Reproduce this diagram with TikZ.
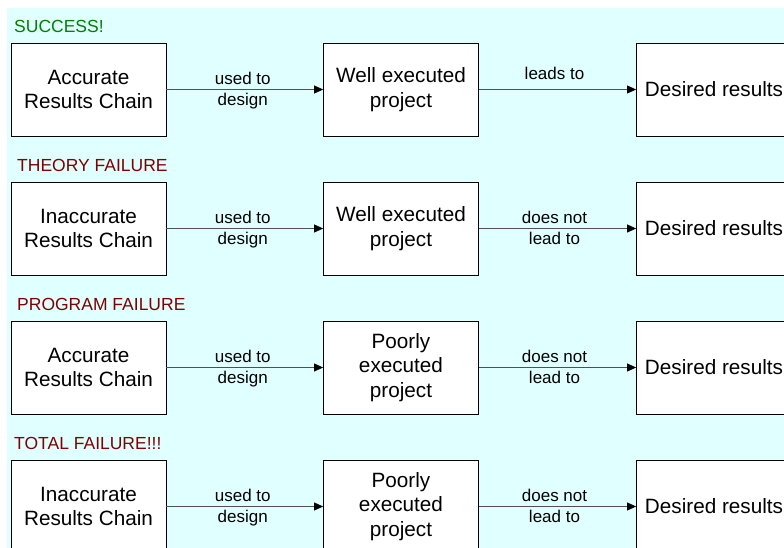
\documentclass[tikz,border=0pt]{standalone}
\usepackage{fontspec}
\setmainfont{Liberation Sans}
\usetikzlibrary{arrows.meta}
\definecolor{bgcyan}{RGB}{224,255,255}
\definecolor{okgreen}{RGB}{0,128,0}
\definecolor{failred}{RGB}{128,0,0}
\definecolor{linegray}{RGB}{80,80,80}
\tikzset{
  box/.style={draw=black, line width=0.8pt, fill=white, minimum width=155pt, minimum height=93pt,
    inner sep=0pt, align=center, font=\fontsize{20.7}{24.8}\selectfont},
  title/.style={anchor=west, inner sep=0pt, font=\fontsize{17.5}{20}\selectfont},
  conn/.style={draw=linegray, line width=0.8pt, -{Triangle[length=9pt,width=8pt,fill=black,color=black]}},
  lbl/.style={inner sep=0pt, align=center, font=\fontsize{17}{20.5}\selectfont}
}
\begin{document}
\begin{tikzpicture}[x=1pt,y=-1pt]
\useasboundingbox (0,0) rectangle (784,548);
\clip (0,0) rectangle (784,548);
\fill[bgcyan] (7,8) rectangle (790,560);

% Row 1
\node[title, text=okgreen] (t1) at (14,26.5) {SUCCESS!};
\node[box] (a1) at (88.5,89.5) {Accurate\\Results Chain};
\node[box] (b1) at (401,89.5) {Well executed\\project};
\node[box] (c1) at (714,89.5) {Desired results};
\draw[conn] (a1) -- (b1) node[lbl, midway, xshift=-2pt, yshift=-1pt] {used to\\design};
\draw[conn] (b1) -- (c1) node[lbl, midway, xshift=-3pt, yshift=16pt] {leads to};

% Row 2
\node[title, text=failred] (t2) at (17,165.5) {THEORY FAILURE};
\node[box] (a2) at (88.5,228.5) {Inaccurate\\Results Chain};
\node[box] (b2) at (401,228.5) {Well executed\\project};
\node[box] (c2) at (714,228.5) {Desired results};
\draw[conn] (a2) -- (b2) node[lbl, midway, xshift=-2pt, yshift=-1pt] {used to\\design};
\draw[conn] (b2) -- (c2) node[lbl, midway, xshift=-3pt, yshift=0.5pt] {does not\\lead to};

% Row 3
\node[title, text=failred] (t3) at (17,304.5) {PROGRAM FAILURE};
\node[box] (a3) at (88.5,367.5) {Accurate\\Results Chain};
\node[box] (b3) at (401,367.5) {Poorly\\executed\\project};
\node[box] (c3) at (714,367.5) {Desired results};
\draw[conn] (a3) -- (b3) node[lbl, midway, xshift=-2pt, yshift=-1pt] {used to\\design};
\draw[conn] (b3) -- (c3) node[lbl, midway, xshift=-3pt, yshift=0.5pt] {does not\\lead to};

% Row 4
\node[title, text=failred] (t4) at (14,443.5) {TOTAL FAILURE!!!};
\node[box] (a4) at (88.5,506.5) {Inaccurate\\Results Chain};
\node[box] (b4) at (401,506.5) {Poorly\\executed\\project};
\node[box] (c4) at (714,506.5) {Desired results};
\draw[conn] (a4) -- (b4) node[lbl, midway, xshift=-2pt, yshift=-1pt] {used to\\design};
\draw[conn] (b4) -- (c4) node[lbl, midway, xshift=-3pt, yshift=0.5pt] {does not\\lead to};
\end{tikzpicture}
\end{document}
